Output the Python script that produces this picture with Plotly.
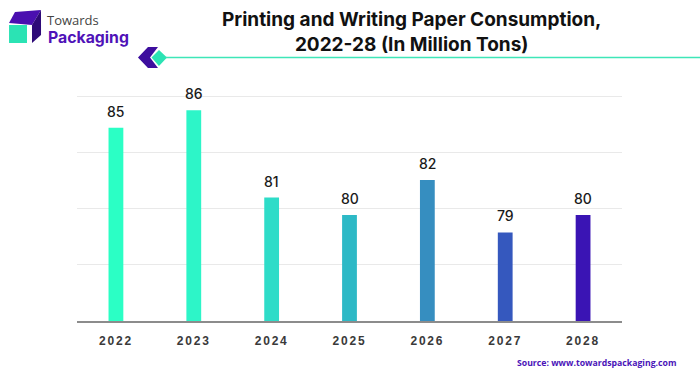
import plotly.graph_objects as go

W, H = 700, 376
years = ["2022", "2023", "2024", "2025", "2026", "2027", "2028"]
consumption = [85, 86, 81, 80, 82, 79, 80]
bar_colors = ["#2BFFC5", "#2DF5C8", "#2EDCC8", "#2DB9C6", "#368EC0", "#3558BE", "#3A14B4"]
title_text = "Printing and Writing Paper Consumption,<br>2022-28 (In Million Tons)"
source_text = "Source: www.towardspackaging.com"

def px(x): return x / W
def py(y): return 1 - y / H
def poly(pts, color):
    d = "M " + " L ".join(f"{px(x):.4f} {py(y):.4f}" for x, y in pts) + " Z"
    return dict(type="path", xref="paper", yref="paper", path=d, fillcolor=color,
                line=dict(width=0), layer="above")

fig = go.Figure(go.Bar(
    x=years, y=consumption, width=0.19,
    marker=dict(color=bar_colors, line=dict(width=0)),
    hoverinfo="x+y",
))

L, R, T, B = 77, 622, 94.4, 321
value_labels = [
    dict(text=str(v), x=i, y=v, xref="x", yref="y", yshift=16.5, showarrow=False,
         xanchor="center", yanchor="middle",
         font=dict(family="Inter", size=14, color="#1a1a1a", weight=500))
    for i, v in enumerate(consumption)
]
fig.update_layout(
    width=W, height=H, showlegend=False,
    margin=dict(l=0, r=0, t=0, b=0),
    paper_bgcolor="white", plot_bgcolor="white",
    xaxis=dict(domain=[L / W, R / W], anchor="y", type="category", range=[-0.5, 6.5],
               tickfont=dict(family="Liberation Sans", size=12, color="#3a3a3a", weight="bold"),
               ticks="", showline=True, linecolor="#8c8c8c", linewidth=1.5,
               showgrid=False, ticklabelstandoff=8),
    yaxis=dict(domain=[1 - B / H, 1 - T / H], anchor="x", range=[73.93, 86.91], tick0=73.93, dtick=3.22,
               showticklabels=False, ticks="", showline=False, zeroline=False,
               showgrid=True, gridcolor="#e9e9e9", gridwidth=1),
    font=dict(family="Liberation Sans"),
    shapes=[
        poly([(9, 23), (15, 12), (41, 10), (32, 25)], "#4A0FB0"),
        poly([(32, 25), (41, 10), (41, 35), (32, 43)], "#2E0A78"),
        poly([(9, 25), (27, 25), (27, 43), (9, 43)], "#2BE3B4"),
        poly([(138, 57.5), (148, 47), (158, 47), (150, 57.5), (158, 68), (148, 68)], "#3D0E9E"),
        poly([(151.5, 57.5), (159, 50), (167, 57.5), (159, 66)], "#2BE3B4"),
        dict(type="line", xref="paper", yref="paper", x0=px(166), x1=1, y0=py(57.5), y1=py(57.5),
             line=dict(color="#3FE6B8", width=1.5)),
    ],
    annotations=value_labels + [
        dict(text=title_text, xref="paper", yref="paper", x=px(411), y=py(32), showarrow=False,
             yanchor="middle",
             font=dict(family="Inter", size=19, color="#111111", weight="bold"), align="center"),
        dict(text="Towards", xref="paper", yref="paper", x=px(45), y=py(20), xanchor="left", yanchor="middle",
             showarrow=False, font=dict(family="Open Sans", size=13, color="#444444")),
        dict(text="Packaging", xref="paper", yref="paper", x=px(46), y=py(37), xanchor="left", yanchor="middle",
             showarrow=False, font=dict(family="Inter", size=15.8, color="#4F12B8", weight="bold")),
        dict(text=source_text, xref="paper", yref="paper", x=px(678), y=py(363), xanchor="right", yanchor="middle",
             showarrow=False, font=dict(family="Open Sans", size=8.7, color="#4A14B8", weight="bold")),
    ],
)

post = ("document.body.style.margin='0';"
        "document.querySelectorAll('.xtick text').forEach(function(t){t.style.letterSpacing='1.8px';});")
fig.write_html("out.html", post_script=post, config={"displayModeBar": False})
